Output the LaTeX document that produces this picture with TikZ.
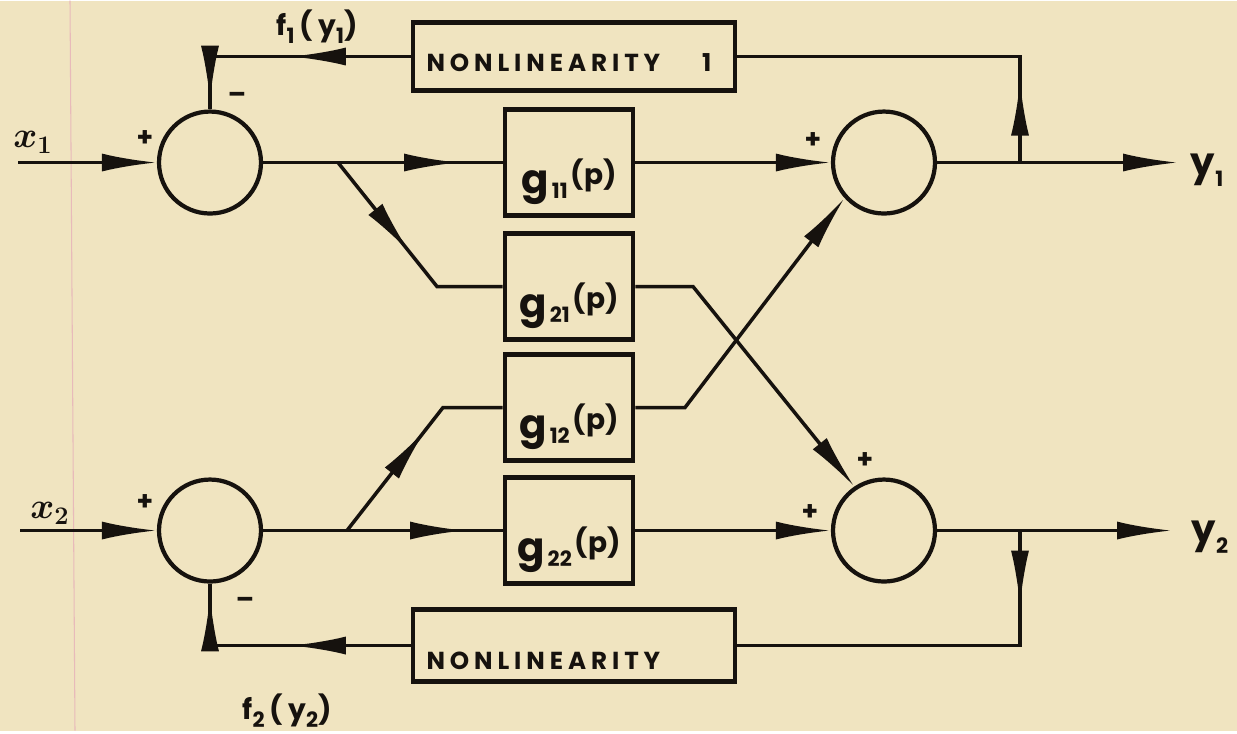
\documentclass[tikz,border=0pt]{standalone}
\usepackage{bm}
\usepackage{fontspec}
\setmainfont{Poppins}
\newfontfamily\wide[LetterSpace=20]{Poppins}
\usetikzlibrary{arrows.meta,decorations.markings}
\definecolor{paper}{RGB}{240,228,192}
\definecolor{ink}{RGB}{22,18,14}
\definecolor{margin}{RGB}{232,186,186}
\newcommand{\lo}[1]{\raisebox{-0.5ex}{\fontsize{12}{12}\selectfont #1}}
\newcommand{\gfun}[1]{{\fontsize{23}{24}\selectfont g}\,\lo{#1}\,\raisebox{0.9ex}{\fontsize{16}{16}\selectfont (p)}}
\tikzset{
  >={Latex[length=11mm,width=3.6mm]},
  wire/.style={draw=ink,line width=2pt},
  sumjunction/.style={circle,draw=ink,line width=2.4pt,minimum size=2.04cm,inner sep=0pt},
  gbox/.style={rectangle,draw=ink,line width=2.6pt,minimum width=2.56cm,minimum height=2.12cm,
    text height=1.35cm,text depth=0.1cm,text=ink,inner sep=0pt,font=\bfseries},
  nlbox/.style={rectangle,draw=ink,line width=2.6pt,minimum width=6.44cm,minimum height=#1,
    text width=5.9cm,align=left,text=ink,font=\wide\bfseries\fontsize{14}{16}\selectfont},
  sign/.style={text=ink,font=\fontsize{15}{15}\selectfont\bfseries},
  lbl/.style={text=ink,font=\wide\bfseries\fontsize{16}{18}\selectfont},
  tip at/.style={postaction={decorate},decoration={markings,mark=at position #1 with {\arrow{>}}}},
  tips at/.style 2 args={postaction={decorate},decoration={markings,
    mark=at position #1 with {\arrow{>}},mark=at position #2 with {\arrow{>}}}},
}
\begin{document}
\begin{tikzpicture}[x=0.02cm,y=-0.02cm]
  \fill[paper] (0,0) rectangle (1237,730);
  \draw[margin,line width=0.6pt] (70,0) -- (75,730);

  % summing points
  \node[sumjunction] (sum1) at (210,162) {};
  \node[sumjunction] (sum2) at (210,530) {};
  \node[sumjunction] (sum3) at (884,162) {};
  \node[sumjunction] (sum4) at (884,530) {};

  % transfer blocks
  \node[gbox] (g11) at (569,162) {\gfun{11}};
  \node[gbox] (g21) at (569,286) {\gfun{21}};
  \node[gbox] (g12) at (569,407) {\gfun{12}};
  \node[gbox] (g22) at (569,530) {\gfun{22}};

  % nonlinear feedback blocks
  \node[nlbox=1.36cm,text height=0.62cm,text depth=0.04cm] (nl1) at (574,56) {NONLINEARITY\hfill 1\hspace*{0.2cm}};
  \node[nlbox=1.44cm,text height=0.98cm,text depth=0.04cm] (nl2) at (574,645) {NONLINEARITY};

  % branch and bend points
  \coordinate (in1) at (18,162);
  \coordinate (in2) at (20,530);
  \coordinate (b1) at (338,162);
  \coordinate (b2) at (347,530);
  \coordinate (k1) at (437,286);
  \coordinate (k2) at (443,407);
  \coordinate (k3) at (693,286);
  \coordinate (k4) at (685,407);
  \coordinate (t1) at (1020,162);
  \coordinate (t2) at (1020,530);
  \coordinate (out1) at (1178,162);
  \coordinate (out2) at (1172,530);

  % forward paths
  \draw[wire,->] (in1) -- (sum1);
  \draw[wire,->] (in2) -- (sum2);
  \draw[wire,tip at=3.92cm] (sum1) -- (g11);
  \draw[wire,tip at=4.04cm] (sum2) -- (g22);
  \draw[wire,tip at=2.3cm] (b1) -- (k1) -- (g21);
  \draw[wire,tip at=2.56cm] (b2) -- (k2) -- (g12);
  \draw[wire,->] (g11) -- (sum3);
  \draw[wire,->] (g22) -- (sum4);
  \draw[wire,->] (g21) -- (k3) -- (sum4.124);
  \draw[wire,->] (g12) -- (k4) -- (sum3.222);
  \draw[wire,->] (sum3) -- (out1);
  \draw[wire,->] (sum4) -- (out2);

  % feedback loops
  \draw[wire,tip at=1.64cm] (t1) |- (nl1);
  \draw[wire,tips at={2.4cm}{4.9cm}] (nl1) -| (sum1);
  \draw[wire,tip at=1.5cm] (t2) |- (nl2);
  \draw[wire,tips at={2.4cm}{5.0cm}] (nl2) -| (sum2);

  % signs
  \node[sign] (s1p) at (145,138) {+};
  \node[sign] (s1m) at (237,97) {\textendash};
  \node[sign] (s2p) at (145,502) {+};
  \node[sign] (s2m) at (245,602) {\textendash};
  \node[sign] (s3p) at (813,140) {+};
  \node[sign] (s4p) at (810,512) {+};
  \node[sign] (s4q) at (865,460) {+};

  % signal labels
  \node[text=ink,font=\fontsize{22}{22}\selectfont] (x1) at (33,142) {$\bm{x}_{\bm{1}}$};
  \node[text=ink,font=\fontsize{22}{22}\selectfont] (x2) at (50,513) {$\bm{x}_{\bm{2}}$};
  \node[lbl,font=\wide\bfseries\fontsize{22}{22}\selectfont] (y1) at (1207,170) {y\lo{1}};
  \node[lbl,font=\wide\bfseries\fontsize{22}{22}\selectfont] (y2) at (1210,537) {y\lo{2}};
  \node[lbl] (f1) at (317,26) {f\lo{1}\,(y\lo{1})};
  \node[lbl] (f2) at (287,710) {f\lo{2}\,(y\lo{2})};
\end{tikzpicture}
\end{document}
